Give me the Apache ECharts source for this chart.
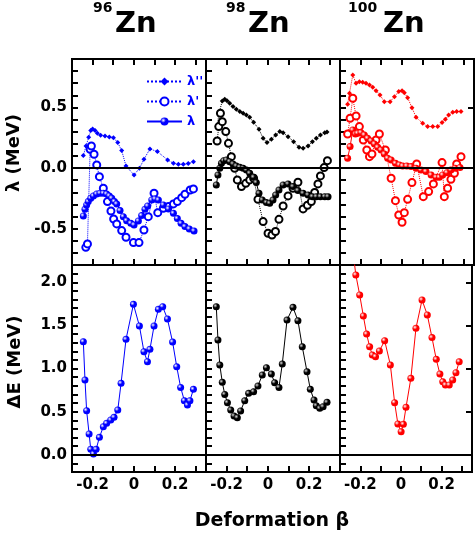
<!DOCTYPE html>
<html><head><meta charset="utf-8">
<script src="https://cdn.jsdelivr.net/npm/echarts@6/dist/echarts.min.js"></script>
<style>html,body{margin:0;padding:0;background:#fff}#c{width:475px;height:535px}</style>
</head><body><div id="c"></div>
<script>
// ---------- data ----------
const massNumbers = ['96', '98', '100'];
const elementName = 'Zn';
const panelColors = ['#0000ff', '#000000', '#ff0000'];
const seriesNames = ["λ''", "λ'", "λ"];
const xLabelValues = [-0.2, 0, 0.2];
const topLabelValues = [-0.5, 0, 0.5];
const bottomLabelValues = [0, 0.5, 1, 1.5, 2];

// 96Zn
const zn96_lamPP = [[-0.245,0.103],[-0.232,0.182],[-0.219,0.254],[-0.209,0.309],[-0.200,0.323],[-0.188,0.309],[-0.177,0.287],[-0.161,0.270],[-0.140,0.265],[-0.119,0.257],[-0.099,0.251],[-0.078,0.210],[-0.059,0.144],[-0.038,0.017],[0.001,-0.057],[0.027,-0.002],[0.049,0.072],[0.078,0.158],[0.114,0.136],[0.164,0.067],[0.192,0.039],[0.216,0.031],[0.240,0.031],[0.264,0.037],[0.289,0.053]];
const zn96_lamP = [[-0.233,-0.654],[-0.225,-0.626],[-0.212,0.155],[-0.206,0.182],[-0.193,0.114],[-0.180,0.026],[-0.167,-0.071],[-0.148,-0.167],[-0.128,-0.277],[-0.111,-0.354],[-0.098,-0.420],[-0.083,-0.461],[-0.059,-0.516],[-0.038,-0.571],[-0.002,-0.615],[0.025,-0.615],[0.049,-0.511],[0.070,-0.401],[0.098,-0.208],[0.116,-0.368],[0.143,-0.332],[0.168,-0.318],[0.192,-0.296],[0.211,-0.277],[0.232,-0.244],[0.248,-0.216],[0.273,-0.181],[0.289,-0.172]];
const zn96_lam = [[-0.245,-0.395],[-0.237,-0.340],[-0.229,-0.304],[-0.221,-0.277],[-0.209,-0.249],[-0.196,-0.230],[-0.180,-0.214],[-0.164,-0.208],[-0.148,-0.208],[-0.132,-0.214],[-0.119,-0.230],[-0.107,-0.249],[-0.094,-0.277],[-0.083,-0.296],[-0.067,-0.351],[-0.051,-0.401],[-0.035,-0.434],[-0.015,-0.456],[0.001,-0.469],[0.022,-0.436],[0.038,-0.392],[0.054,-0.340],[0.067,-0.313],[0.087,-0.263],[0.103,-0.255],[0.119,-0.263],[0.143,-0.304],[0.168,-0.337],[0.192,-0.373],[0.211,-0.417],[0.229,-0.456],[0.248,-0.483],[0.269,-0.502],[0.292,-0.519]];
const zn96_dE = [[-0.245,1.311],[-0.237,0.867],[-0.229,0.511],[-0.217,0.241],[-0.209,0.063],[-0.196,0.009],[-0.183,0.063],[-0.167,0.202],[-0.148,0.325],[-0.132,0.364],[-0.112,0.403],[-0.096,0.434],[-0.078,0.519],[-0.062,0.828],[-0.038,1.338],[-0.002,1.744],[0.027,1.493],[0.049,1.195],[0.066,1.079],[0.078,1.222],[0.098,1.493],[0.119,1.686],[0.140,1.717],[0.163,1.574],[0.188,1.307],[0.208,1.021],[0.227,0.781],[0.245,0.627],[0.260,0.577],[0.272,0.627],[0.289,0.758]];

// 98Zn
const zn98_lamPP = [[-0.246,0.342],[-0.237,0.452],[-0.221,0.554],[-0.209,0.567],[-0.198,0.556],[-0.185,0.534],[-0.169,0.507],[-0.153,0.485],[-0.136,0.466],[-0.120,0.452],[-0.104,0.438],[-0.088,0.419],[-0.069,0.378],[-0.043,0.320],[-0.023,0.246],[-0.004,0.210],[0.017,0.237],[0.038,0.273],[0.058,0.301],[0.074,0.292],[0.098,0.259],[0.125,0.218],[0.151,0.171],[0.171,0.163],[0.195,0.182],[0.216,0.218],[0.235,0.246],[0.255,0.273],[0.276,0.292],[0.287,0.298]];
const zn98_lamP = [[-0.246,0.223],[-0.238,0.342],[-0.230,0.452],[-0.221,0.383],[-0.204,0.301],[-0.191,0.204],[-0.177,0.094],[-0.161,-0.002],[-0.148,-0.098],[-0.128,-0.153],[-0.107,-0.126],[-0.088,-0.098],[-0.069,-0.084],[-0.048,-0.258],[-0.023,-0.442],[0.001,-0.538],[0.020,-0.552],[0.037,-0.524],[0.054,-0.423],[0.074,-0.313],[0.098,-0.230],[0.122,-0.167],[0.146,-0.117],[0.171,-0.337],[0.192,-0.307],[0.211,-0.277],[0.227,-0.202],[0.243,-0.131],[0.255,-0.065],[0.273,0.004],[0.289,0.061]];
const zn98_lam = [[-0.250,-0.139],[-0.242,-0.057],[-0.233,-0.002],[-0.225,0.039],[-0.214,0.061],[-0.201,0.067],[-0.185,0.053],[-0.169,0.034],[-0.153,0.017],[-0.136,0.006],[-0.120,-0.002],[-0.104,-0.016],[-0.088,-0.043],[-0.069,-0.076],[-0.056,-0.120],[-0.043,-0.208],[-0.027,-0.263],[-0.007,-0.285],[0.009,-0.291],[0.025,-0.263],[0.038,-0.222],[0.054,-0.181],[0.074,-0.139],[0.098,-0.131],[0.122,-0.153],[0.146,-0.186],[0.171,-0.208],[0.195,-0.222],[0.216,-0.236],[0.235,-0.236],[0.255,-0.236],[0.276,-0.236],[0.292,-0.236]];
const zn98_dE = [[-0.250,1.717],[-0.242,1.331],[-0.233,1.041],[-0.221,0.840],[-0.209,0.700],[-0.196,0.604],[-0.180,0.519],[-0.164,0.450],[-0.148,0.430],[-0.132,0.508],[-0.112,0.627],[-0.093,0.712],[-0.069,0.731],[-0.048,0.797],[-0.027,0.925],[-0.007,1.010],[0.017,0.936],[0.033,0.836],[0.054,0.781],[0.070,1.052],[0.093,1.562],[0.122,1.709],[0.146,1.555],[0.167,1.253],[0.190,0.963],[0.206,0.758],[0.224,0.635],[0.235,0.569],[0.252,0.538],[0.268,0.557],[0.287,0.608]];

// 100Zn
const zn100_lamPP = [[-0.263,0.526],[-0.254,0.617],[-0.238,0.768],[-0.222,0.699],[-0.206,0.713],[-0.190,0.708],[-0.174,0.699],[-0.157,0.686],[-0.141,0.666],[-0.125,0.639],[-0.106,0.603],[-0.085,0.548],[-0.057,0.548],[-0.036,0.589],[-0.015,0.631],[0.001,0.639],[0.012,0.622],[0.028,0.581],[0.049,0.498],[0.069,0.419],[0.101,0.369],[0.125,0.342],[0.150,0.342],[0.174,0.342],[0.195,0.375],[0.211,0.402],[0.227,0.438],[0.247,0.460],[0.266,0.466],[0.287,0.466]];
const zn100_lamP = [[-0.263,0.281],[-0.251,0.411],[-0.238,0.576],[-0.222,0.430],[-0.206,0.342],[-0.187,0.232],[-0.170,0.149],[-0.157,0.094],[-0.145,0.116],[-0.125,0.232],[-0.109,0.281],[-0.080,0.149],[-0.052,-0.084],[-0.031,-0.269],[-0.015,-0.387],[0.001,-0.447],[0.012,-0.368],[0.028,-0.258],[0.049,-0.120],[0.072,0.034],[0.104,-0.236],[0.130,-0.194],[0.153,-0.131],[0.195,0.045],[0.206,-0.236],[0.222,-0.167],[0.238,-0.093],[0.255,-0.043],[0.266,0.034],[0.287,0.094]];
const zn100_lam = [[-0.263,0.081],[-0.251,0.177],[-0.238,0.314],[-0.225,0.281],[-0.214,0.287],[-0.198,0.292],[-0.182,0.273],[-0.166,0.246],[-0.149,0.224],[-0.133,0.199],[-0.117,0.171],[-0.101,0.149],[-0.085,0.116],[-0.069,0.081],[-0.052,0.067],[-0.031,0.039],[-0.012,0.026],[0.004,0.017],[0.024,0.017],[0.045,0.012],[0.069,-0.002],[0.093,-0.016],[0.117,-0.029],[0.142,-0.057],[0.166,-0.076],[0.182,-0.076],[0.198,-0.057],[0.219,-0.038],[0.238,-0.016],[0.259,-0.002],[0.282,0.004]];
const zn100_dE = [[-0.235,2.335],[-0.222,2.085],[-0.203,1.853],[-0.185,1.609],[-0.169,1.400],[-0.154,1.253],[-0.141,1.157],[-0.125,1.137],[-0.106,1.203],[-0.080,1.323],[-0.052,1.041],[-0.031,0.604],[-0.015,0.357],[0.001,0.268],[0.012,0.353],[0.025,0.550],[0.049,0.886],[0.074,1.466],[0.104,1.795],[0.130,1.621],[0.153,1.358],[0.174,1.106],[0.192,0.936],[0.206,0.847],[0.219,0.809],[0.238,0.809],[0.255,0.867],[0.271,0.952],[0.287,1.079]];

const lamPP = [zn96_lamPP, zn98_lamPP, zn100_lamPP];
const lamP = [zn96_lamP, zn98_lamP, zn100_lamP];
const lam = [zn96_lam, zn98_lam, zn100_lam];
const dE = [zn96_dE, zn98_dE, zn100_dE];

// ---------- chart ----------
const FONT = 'DejaVu Sans';
function inList(v, list) { return list.some(t => Math.abs(v - t) < 1e-6); }
function fmtX(v) { if (!inList(v, xLabelValues)) return ''; return Math.abs(v) < 1e-6 ? '0' : v.toFixed(1); }
function fmtTop(v) { return inList(v, topLabelValues) ? (Math.abs(v) < 1e-6 ? '0.0' : v.toFixed(1)) : ''; }
function fmtBot(v) { return inList(v, bottomLabelValues) ? (Math.abs(v) < 1e-6 ? '0.0' : v.toFixed(1)) : ''; }
function sphere(color, hi) {
  return new echarts.graphic.RadialGradient(0.35, 0.35, 0.7, [
    { offset: 0, color: hi }, { offset: 0.45, color: color }, { offset: 1, color: color }]);
}
function tick() { return { show: true, inside: true, length: 6, lineStyle: { color: '#000', width: 2 } }; }
function axLine() { return { show: true, onZero: false, lineStyle: { color: '#000', width: 2 } }; }
const grids = [], xAxes = [], yAxes = [], series = [];
const zeroLine = { silent: true, symbol: 'none', label: { show: false }, animation: false,
  lineStyle: { color: '#000', width: 2, type: 'solid' }, data: [{ yAxis: 0 }] };

for (let r = 0; r < 2; r++) {
  for (let c = 0; c < 3; c++) {
    const gi = grids.length;
    grids.push({ left: 72 + 134 * c, top: r ? 265 : 59, width: 134, height: r ? 207 : 206,
      show: true, borderColor: '#000', borderWidth: 2, backgroundColor: 'transparent' });
    const xi = xAxes.length;
    xAxes.push({ type: 'value', gridIndex: gi, min: -0.3, max: 0.35, interval: 0.1, position: 'bottom',
      axisLine: axLine(), splitLine: { show: false }, axisTick: tick(),
      axisLabel: { show: r === 1, margin: 6, formatter: fmtX, fontFamily: FONT, fontWeight: 'bold', fontSize: 15, color: '#000' } });
    if (r === 0) {
      xAxes.push({ type: 'value', gridIndex: gi, min: -0.3, max: 0.35, interval: 0.1, position: 'top',
        axisLine: axLine(), splitLine: { show: false }, axisTick: tick(), axisLabel: { show: false } });
    }
    const yi = yAxes.length;
    yAxes.push({ type: 'value', gridIndex: gi, min: r ? -0.2 : -0.8, max: r ? 2.2 : 0.9, interval: 0.1, position: 'left',
      axisLine: axLine(), splitLine: { show: false }, axisTick: tick(),
      axisLabel: { show: c === 0, margin: 5, formatter: r ? fmtBot : fmtTop, fontFamily: FONT, fontWeight: 'bold', fontSize: 15, color: '#000' } });
    if (c === 2) {
      const t = tick(); t.customValues = r ? bottomLabelValues : topLabelValues;
      yAxes.push({ type: 'value', gridIndex: gi, min: r ? -0.2 : -0.8, max: r ? 2.2 : 0.9, interval: 0.1, position: 'right',
        axisLine: axLine(), splitLine: { show: false }, axisTick: t, axisLabel: { show: false } });
    }
    const col = panelColors[c];
    const hi = c === 1 ? '#d8d8d8' : '#ffffff';
    if (r === 0) {
      series.push({ type: 'line', name: seriesNames[0], xAxisIndex: xi, yAxisIndex: yi, data: lamPP[c],
        symbol: 'diamond', symbolSize: 5, lineStyle: { type: 'dotted', width: 1, color: col },
        itemStyle: { color: col }, animation: false, z: 2 });
      series.push({ type: 'line', name: seriesNames[1], xAxisIndex: xi, yAxisIndex: yi, data: lamP[c],
        symbol: 'emptyCircle', symbolSize: 7, lineStyle: { type: 'dotted', width: 1, color: col },
        itemStyle: { color: col, borderColor: col, borderWidth: 1 }, animation: false, z: 3 });
      series.push({ type: 'line', name: seriesNames[2], xAxisIndex: xi, yAxisIndex: yi, data: lam[c],
        symbol: 'circle', symbolSize: 7, lineStyle: { type: 'solid', width: 1, color: col },
        itemStyle: { color: sphere(col, hi) }, animation: false, z: 4, markLine: zeroLine });
    } else {
      series.push({ type: 'line', name: 'ΔE', xAxisIndex: xi, yAxisIndex: yi, data: dE[c],
        symbol: 'circle', symbolSize: 7, lineStyle: { type: 'solid', width: 1, color: col },
        itemStyle: { color: sphere(col, hi) }, animation: false, z: 4, markLine: zeroLine });
    }
  }
}

const titleSupX = [93, 226, 348];
const titleMainX = [115, 248, 383];
const graphics = [];
for (let c = 0; c < 3; c++) {
  graphics.push({ type: 'text', x: titleSupX[c], y: 8.5, style: { text: massNumbers[c], font: 'bold 14px "' + FONT + '"', fill: '#000', align: 'left', verticalAlign: 'middle' } });
  graphics.push({ type: 'text', x: titleMainX[c], y: 24.5, style: { text: elementName, font: 'bold 29px "' + FONT + '"', fill: '#000', align: 'left', verticalAlign: 'middle' } });
}
graphics.push({ type: 'text', x: 14, y: 153, rotation: Math.PI / 2, style: { text: 'λ (MeV)', font: 'bold 18px "' + FONT + '"', fill: '#000', align: 'center', verticalAlign: 'middle' } });
graphics.push({ type: 'text', x: 15, y: 362, rotation: Math.PI / 2, style: { text: 'ΔE (MeV)', font: 'bold 18px "' + FONT + '"', fill: '#000', align: 'center', verticalAlign: 'middle' } });
graphics.push({ type: 'text', x: 272, y: 521, style: { text: 'Deformation β', font: 'bold 19px "' + FONT + '"', fill: '#000', align: 'center', verticalAlign: 'middle' } });

const chart = echarts.init(document.getElementById('c'), null, { renderer: 'canvas' });
chart.setOption({
  animation: false,
  backgroundColor: '#fff',
  grid: grids, xAxis: xAxes, yAxis: yAxes, series: series,
  legend: { data: seriesNames, orient: 'vertical', left: 141, top: 70, itemWidth: 35, itemHeight: 10, itemGap: 7,
    selectedMode: false, textStyle: { color: '#0000ff', fontFamily: FONT, fontWeight: 'bold', fontSize: 13 } },
  graphic: graphics
});
</script></body></html>
